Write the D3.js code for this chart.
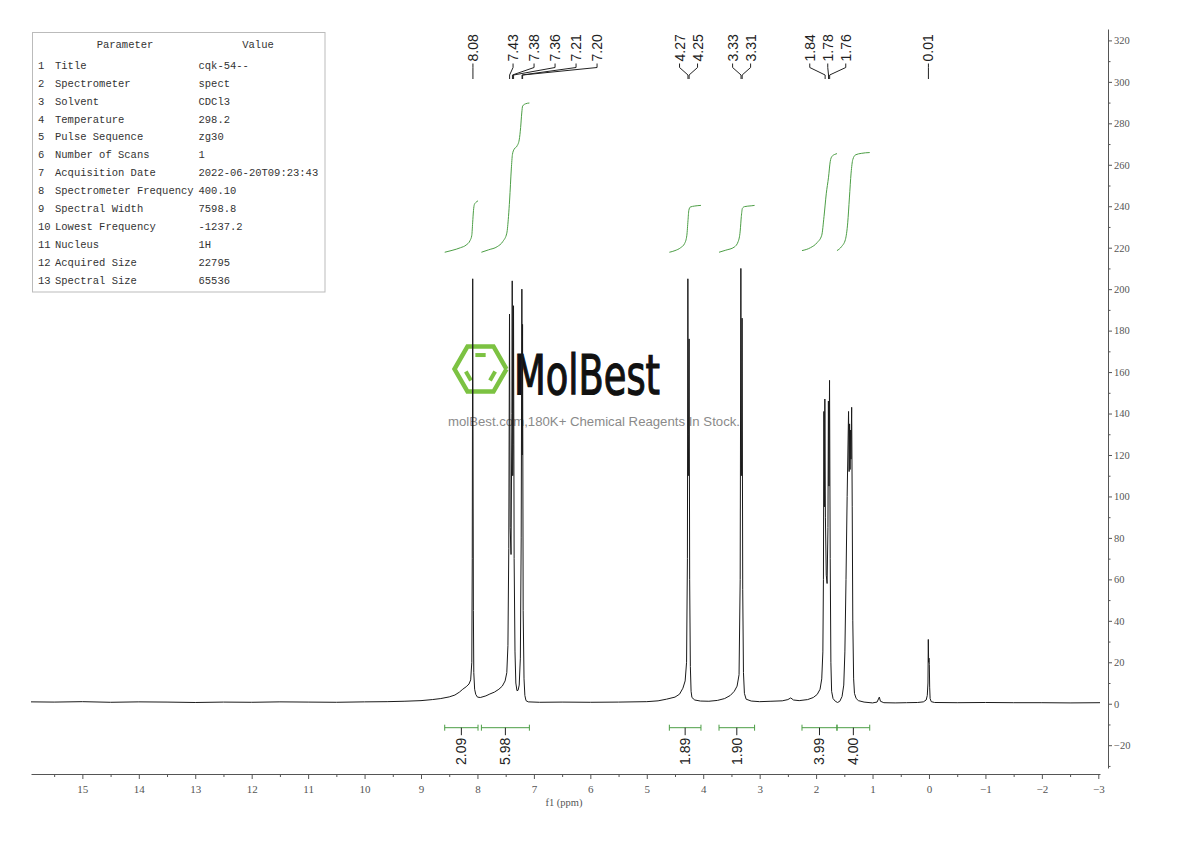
<!DOCTYPE html>
<html><head><meta charset="utf-8">
<script src="https://cdn.jsdelivr.net/npm/d3@7"></script>
<style>body{margin:0;background:#fff}</style>
</head><body>
<svg id="chart" width="1190" height="841"></svg>
<script>
// ---------------- DATA ----------------
// 1H spectrum trace: [ppm, intensity]
const spectrum = [
[15.91,0.9],[15.5,0.8],[15.0,1.0],[14.5,0.7],[14.0,0.9],[13.5,0.8],[13.0,0.6],[12.5,0.8],[12.0,0.7],[11.5,0.9],[11.0,0.8],[10.5,0.7],[10.0,0.9],[9.6,1.0],[9.3,1.2],[9.0,1.5],[8.8,2.0],[8.65,2.5],[8.5,3.3],[8.4,4.2],[8.32,5.6],[8.26,7.0],[8.2,8.2],[8.15,9.5],[8.12,11.5],[8.10,20],[8.092,70],[8.084,205],[8.078,120],[8.072,45],[8.065,15],[8.05,7],[8.03,4.5],[8.0,3.2],[7.95,3.0],[7.85,3.8],[7.78,4.7],[7.7,5.6],[7.62,7.0],[7.56,8.5],[7.51,11],[7.48,15],[7.46,28],[7.445,75],[7.432,188],[7.42,85],[7.405,72],[7.39,140],[7.384,204],[7.375,110],[7.368,125],[7.361,192],[7.35,70],[7.335,25],[7.32,10],[7.30,6.3],[7.28,6.5],[7.26,9],[7.24,22],[7.225,80],[7.213,200],[7.207,120],[7.201,183],[7.19,45],[7.175,12],[7.16,4],[7.14,1.5],[7.1,0.9],[6.9,0.7],[6.5,0.8],[6.0,0.7],[5.5,0.8],[5.0,1.0],[4.8,1.4],[4.65,2.2],[4.5,3.2],[4.42,4.6],[4.36,7.5],[4.32,11],[4.295,20],[4.28,70],[4.272,205],[4.264,110],[4.257,130],[4.25,176],[4.24,60],[4.228,18],[4.215,6],[4.2,3],[4.15,1.8],[4.05,1.3],[3.9,1.2],[3.75,1.6],[3.62,2.5],[3.52,4],[3.45,6],[3.40,8.5],[3.365,14],[3.345,60],[3.333,210],[3.325,110],[3.318,120],[3.311,186],[3.30,55],[3.287,15],[3.27,5],[3.24,2.2],[3.15,1.3],[3.0,1.0],[2.8,1.2],[2.6,1.4],[2.5,2.0],[2.45,2.8],[2.4,1.8],[2.3,1.5],[2.15,2.0],[2.05,3.0],[1.98,4.5],[1.93,7],[1.90,12],[1.88,25],[1.87,60],[1.862,141],[1.853,95],[1.845,147],[1.835,90],[1.82,62],[1.805,58],[1.79,85],[1.782,146],[1.772,105],[1.762,156],[1.75,70],[1.738,20],[1.725,6],[1.70,2.5],[1.66,1.2],[1.62,0.6],[1.58,1.2],[1.54,3.5],[1.51,9],[1.49,25],[1.47,60],[1.45,100],[1.425,141],[1.415,112],[1.407,135],[1.398,113],[1.39,132],[1.382,118],[1.37,143],[1.36,95],[1.35,40],[1.335,12],[1.32,5],[1.29,2.5],[1.25,1.5],[1.15,0.8],[1.0,0.4],[0.92,0.8],[0.88,3.2],[0.86,1.2],[0.8,0.5],[0.6,0.4],[0.4,0.5],[0.2,0.6],[0.1,0.9],[0.05,1.8],[0.03,4],[0.018,10],[0.012,31],[0.006,20],[0.0,22],[-0.006,19],[-0.012,8],[-0.02,2.5],[-0.04,1],[-0.1,0.6],[-0.5,0.5],[-1.0,0.6],[-1.5,0.5],[-2.0,0.5],[-2.5,0.4],[-3.03,0.5]
];

// Integral curves, in y-axis units: [ppm, level]
const integral1 = [[8.58,217.8],[8.45,218.7],[8.3,220],[8.2,221.3],[8.13,223.5],[8.10,226],[8.085,232],[8.07,238],[8.055,240.8],[8.03,241.8],[7.99,242.6]];
const integral2 = [[7.93,217.8],[7.8,219],[7.65,220.5],[7.55,223],[7.48,227],[7.45,235],[7.43,243],[7.40,258],[7.38,265],[7.35,267.5],[7.30,269],[7.26,272],[7.235,278],[7.215,285],[7.20,288.3],[7.15,289.4],[7.08,289.8]];
const integral3 = [[4.60,217.8],[4.5,218.6],[4.4,220],[4.33,222],[4.29,226],[4.27,233],[4.255,238],[4.23,239.6],[4.15,240.1],[4.04,240.4]];
const integral4 = [[3.72,217.8],[3.6,218.8],[3.45,220.3],[3.38,223],[3.345,228],[3.325,235],[3.305,239],[3.27,239.8],[3.15,240.2],[3.09,240.4]];
const integral5 = [[2.25,218.6],[2.1,220],[1.98,222.5],[1.9,226],[1.86,235],[1.82,246],[1.78,254],[1.75,261.5],[1.72,264],[1.67,265],[1.63,265.4]];
const integral6 = [[1.63,218.6],[1.55,220.5],[1.48,224],[1.44,232],[1.41,244],[1.38,256],[1.35,262.5],[1.30,264.8],[1.2,265.5],[1.05,265.9]];

// Integration regions
const integrationFrom = [8.58, 7.93, 4.60, 3.72, 2.25, 1.63];
const integrationTo   = [7.99, 7.08, 4.04, 3.09, 1.63, 1.05];
const integrationValues = ["2.09", "5.98", "1.89", "1.90", "3.99", "4.00"];

// Peak picks
const peakShifts = [8.08, 7.43, 7.38, 7.36, 7.21, 7.20, 4.27, 4.25, 3.33, 3.31, 1.84, 1.78, 1.76, 0.01];
const peakGroups = [[0], [1,2,3,4,5], [6,7], [8,9], [10,11,12], [13]];

// Axis ticks
const xMajorTicks = [15,14,13,12,11,10,9,8,7,6,5,4,3,2,1,0,-1,-2,-3];
const yMajorTicks = [-20,0,20,40,60,80,100,120,140,160,180,200,220,240,260,280,300,320];

// Parameter table
const paramNames = ["Title","Spectrometer","Solvent","Temperature","Pulse Sequence","Number of Scans","Acquisition Date","Spectrometer Frequency","Spectral Width","Lowest Frequency","Nucleus","Acquired Size","Spectral Size"];
const paramValues = ["cqk-54--","spect","CDCl3","298.2","zg30","1","2022-06-20T09:23:43","400.10","7598.8","-1237.2","1H","22795","65536"];

// ---------------- DRAWING ----------------
const svg = d3.select("#chart");
const x = d3.scaleLinear().domain([15.91, -3.03]).range([31, 1100]);
const y = d3.scaleLinear().domain([-31, 325.5]).range([768, 29]);
const axisColor = "#555";
const green = "#4c9e45";
const serif = "'Liberation Serif','DejaVu Serif',serif";
const sans = "'Liberation Sans',Arial,sans-serif";

// Watermark (under the spectrum)
const wm = svg.append("g").attr("class", "watermark");
const hc = [480.5, 369], hr = 26;
const hexPts = d3.range(7).map(i => [hc[0] + hr*Math.cos(i*Math.PI/3), hc[1] + hr*Math.sin(i*Math.PI/3)]);
wm.append("path").attr("d", d3.line()(hexPts)).attr("fill","none").attr("stroke","#7cc242").attr("stroke-width",4.5).attr("stroke-linejoin","miter");
const inner = hr*0.62;
[[4,5],[2,3],[0,1]].forEach(([a,b]) => {
  const pa = [hc[0] + inner*Math.cos(a*Math.PI/3), hc[1] + inner*Math.sin(a*Math.PI/3)];
  const pb = [hc[0] + inner*Math.cos(b*Math.PI/3), hc[1] + inner*Math.sin(b*Math.PI/3)];
  const sh = 0.18;
  const p1 = [pa[0] + (pb[0]-pa[0])*sh, pa[1] + (pb[1]-pa[1])*sh];
  const p2 = [pb[0] + (pa[0]-pb[0])*sh, pb[1] + (pa[1]-pb[1])*sh];
  wm.append("path").attr("d", d3.line()([p1,p2])).attr("stroke","#7cc242").attr("stroke-width",4).attr("stroke-linecap","butt");
});
wm.append("text").attr("x", 514).attr("y", 394).text("MolBest")
  .attr("font-family","'DejaVu Sans Condensed','Liberation Sans Narrow','Liberation Sans',sans-serif")
  .attr("font-size", 55).attr("fill","#111").attr("stroke","#111").attr("stroke-width",1.2)
  .attr("textLength", 146).attr("lengthAdjust","spacingAndGlyphs");
wm.append("text").attr("x", 448).attr("y", 426).text("molBest.com,180K+ Chemical Reagents In Stock.")
  .attr("font-family", sans).attr("font-size", 12.5).attr("fill","#8a8a8a")
  .attr("textLength", 292).attr("lengthAdjust","spacingAndGlyphs");

// Axes
const gx = svg.append("g").attr("transform","translate(0,774)");
gx.call(d3.axisBottom(x).tickValues(xMajorTicks).tickSize(5).tickSizeOuter(0).tickPadding(6).tickFormat(d => String(d).replace("-", "−")));
const gxm = svg.append("g").attr("transform","translate(0,774)");
gxm.call(d3.axisBottom(x).tickValues(xMajorTicks.slice(0,-1).map(d => d - 0.5).concat([15.5])).tickSize(3).tickSizeOuter(0).tickFormat(""));
gxm.select(".domain").remove();
[gx, gxm].forEach(g => {
  g.select(".domain").attr("stroke", axisColor);
  g.selectAll(".tick line").attr("stroke", axisColor);
  g.selectAll(".tick text").attr("font-family", serif).attr("font-size", 11).attr("fill","#555");
});
svg.append("text").attr("x", 564).attr("y", 806).attr("text-anchor","middle")
  .attr("font-family", serif).attr("font-size", 10.5).attr("fill","#555").text("f1 (ppm)");

const gy = svg.append("g").attr("transform","translate(1108,0)");
gy.call(d3.axisRight(y).tickValues(yMajorTicks).tickSize(4).tickSizeOuter(0).tickPadding(2).tickFormat(d => String(d).replace("-", "−")));
const gym = svg.append("g").attr("transform","translate(1108,0)");
gym.call(d3.axisRight(y).tickValues(yMajorTicks.map(d => d - 10)).tickSize(2.5).tickSizeOuter(0).tickFormat(""));
gym.select(".domain").remove();
[gy, gym].forEach(g => {
  g.select(".domain").attr("stroke", axisColor);
  g.selectAll(".tick line").attr("stroke", axisColor);
  g.selectAll(".tick text").attr("font-family", serif).attr("font-size", 10.5).attr("fill","#555");
});

// Spectrum
svg.append("path").datum(spectrum)
  .attr("d", d3.line().x(d => x(d[0])).y(d => y(d[1])))
  .attr("fill","none").attr("stroke","#1a1a1a").attr("stroke-width",1);

// Integral curves
[integral1, integral2, integral3, integral4, integral5, integral6].forEach(c => {
  svg.append("path").datum(c)
    .attr("d", d3.line().x(d => x(d[0])).y(d => y(d[1])).curve(d3.curveMonotoneX))
    .attr("fill","none").attr("stroke", green).attr("stroke-width",1);
});

// Integration bars
const barY = 727.7;
integrationFrom.forEach((f, i) => {
  const x1 = x(f), x2 = x(integrationTo[i]), xm = (x1 + x2)/2;
  const g = svg.append("g").attr("stroke", green).attr("stroke-width",1);
  g.append("line").attr("x1",x1).attr("x2",x2).attr("y1",barY).attr("y2",barY);
  g.append("line").attr("x1",x1).attr("x2",x1).attr("y1",barY-3).attr("y2",barY+3);
  g.append("line").attr("x1",x2).attr("x2",x2).attr("y1",barY-3).attr("y2",barY+3);
  svg.append("line").attr("x1",xm).attr("x2",xm).attr("y1",barY).attr("y2",barY+7.5).attr("stroke","#222");
  svg.append("text").attr("transform",`translate(${xm},${barY+10}) rotate(-90)`)
    .attr("text-anchor","end").attr("dominant-baseline","central")
    .attr("font-family", sans).attr("font-size",14).attr("fill","#222").text(integrationValues[i]);
});

// Peak labels
const labelSpacing = [18, 21, 18, 18, 18, 18];
const groupShift = [0, 39, 0, 0, 0, 0];
peakGroups.forEach((grp, gi) => {
  const pxs = grp.map(i => x(peakShifts[i]));
  const center = d3.mean(pxs) + groupShift[gi];
  grp.forEach((pi, k) => {
    const lx = center + (k - (grp.length - 1)/2) * labelSpacing[gi];
    const px = x(peakShifts[pi]);
    svg.append("path")
      .attr("d", d3.line()([[lx, 63.5], [lx, 67.5], [px, 75], [px, 79]]))
      .attr("fill","none").attr("stroke","#222").attr("stroke-width",1);
    svg.append("text").attr("transform",`translate(${lx},61.5) rotate(-90)`)
      .attr("text-anchor","start").attr("dominant-baseline","central")
      .attr("font-family", sans).attr("font-size",14).attr("fill","#222")
      .text(peakShifts[pi].toFixed(2));
  });
});

// Parameter table
const tb = svg.append("g");
tb.append("rect").attr("x",32.5).attr("y",32.5).attr("width",292.5).attr("height",259.5)
  .attr("fill","#fff").attr("stroke","#bbb").attr("stroke-width",1);
const mono = "'Liberation Mono','DejaVu Sans Mono',monospace";
tb.append("text").attr("x",125).attr("y",47.5).attr("text-anchor","middle").text("Parameter");
tb.append("text").attr("x",258).attr("y",47.5).attr("text-anchor","middle").text("Value");
paramNames.forEach((n, i) => {
  const yy = 65 + i*17.92 + 3.8;
  tb.append("text").attr("x",38).attr("y",yy).text(String(i+1));
  tb.append("text").attr("x",55).attr("y",yy).text(n);
  tb.append("text").attr("x",198.5).attr("y",yy).text(paramValues[i]);
});
tb.selectAll("text").attr("font-family", mono).attr("font-size",10.5).attr("fill","#333");
</script>
</body></html>
